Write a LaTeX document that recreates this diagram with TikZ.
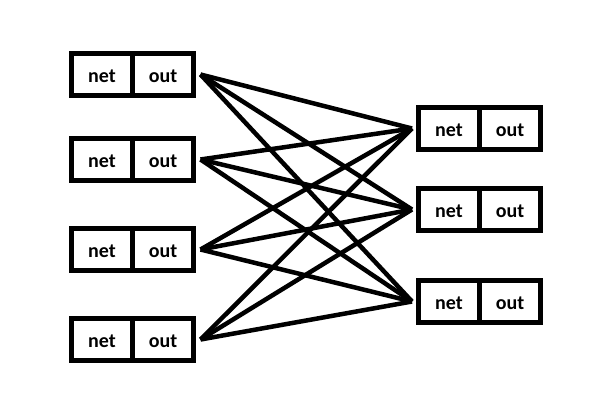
\documentclass[tikz,border=0pt]{standalone}
\usepackage{fontspec}
\setmainfont{Carlito}
\begin{document}
\begin{tikzpicture}[x=1pt,y=-1pt,
  cell/.style={draw=black,line width=5pt,minimum width=61pt,minimum height=42pt,inner sep=0pt,text depth=0pt,
    font=\fontsize{20}{20}\selectfont\bfseries},
  conn/.style={line width=4.5pt}]
\useasboundingbox (0,0) rectangle (609,417);
% left layer
\foreach \i/\y in {1/74.5,2/159.5,3/249.5,4/339.5}{
  \node[cell] (Ln\i) at (102,\y) {\raisebox{-2.5pt}{net}};
  \node[cell] (Lo\i) at (163,\y) {\raisebox{-2.5pt}{out}};
  \coordinate (s\i) at ([xshift=4.5pt]Lo\i.east);
}
% right layer
\foreach \j/\y in {1/128.5,2/209.5,3/301.5}{
  \node[cell] (Rn\j) at (449,\y) {\raisebox{-2.5pt}{net}};
  \node[cell] (Ro\j) at (510,\y) {\raisebox{-2.5pt}{out}};
  \coordinate (t\j) at ([xshift=-4pt]Rn\j.west);
}
\foreach \i in {1,...,4}{
  \foreach \j in {1,2,3}{
    \draw[conn] (s\i) -- (t\j);
  }
}
\end{tikzpicture}
\end{document}
